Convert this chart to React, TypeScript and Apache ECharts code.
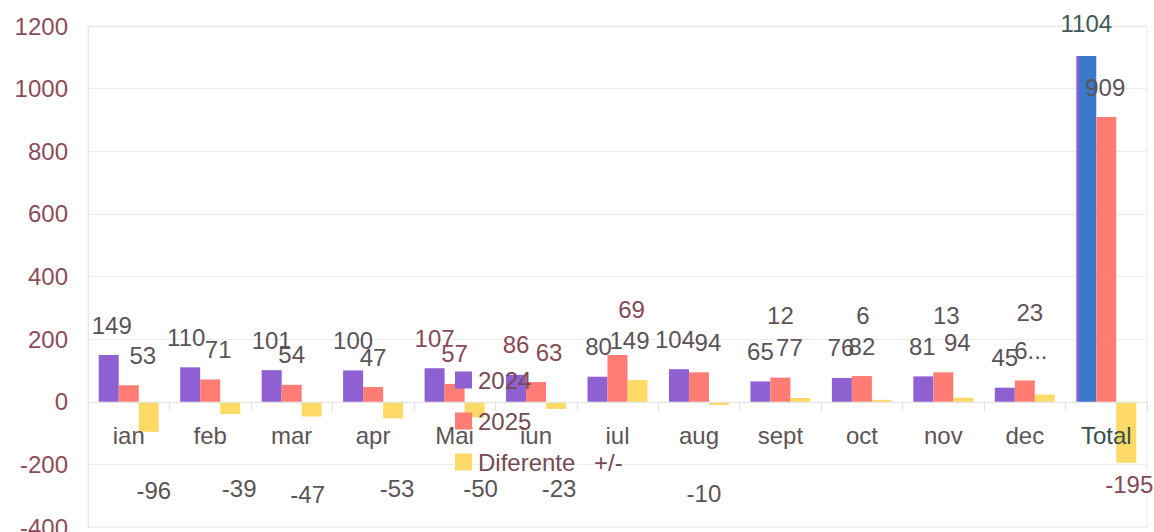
import React, { useEffect, useRef } from "react";
import * as echarts from "echarts";

const categories = ["ian", "feb", "mar", "apr", "Mai", "iun", "iul", "aug", "sept", "oct", "nov", "dec", "Total"];
const values2024 = [149, 110, 101, 100, 107, 86, 80, 104, 65, 76, 81, 45, 1104];
const values2025 = [53, 71, 54, 47, 57, 63, 149, 94, 77, 82, 94, 68, 909];
const diffValues = [-96, -39, -47, -53, -50, -23, 69, -10, 12, 6, 13, 23, -195];
const yTicks = { min: -400, max: 1200, interval: 200 };
const seriesNames = ["2024", "2025", "Diferente +/-"];

// label tweaks (styles only)
const dx2024 = [3, -4, 0, 0, 0, 0, 1, -4, 0, -1, -1, 0, 0];
const dx2025 = [14, 8, 0, 0, 0, 13, 12, 9, 9, 0, 14, 6, -1];
const dy2025 = [0, 0, 0, 0, 0, 0, 15, 0, 0, 0, 0, 0, 0];
const diffDx = [5, 9, -4, 4, 6, 3, -6, -15, -20, -19, -17, -15, 3];
const diffNegY = [89, 87, 93, 87, 87, 87, 0, 92, 0, 0, 0, 0, 83];
const diffPosDist = [0, 0, 0, 0, 0, 0, 59, 0, 70, 72, 70, 70, 0];

const FONT = 'Arial, "Liberation Sans", "DejaVu Sans", sans-serif';
const PURPLE = "#8f60d2";
const PINK = "#fe7c73";
const YELLOW = "#ffd966";
const BLUE = "#3b78cc";
const GRAY = "#5b5357";
const BROWN = "#854a58";

const W = 1154;
const H = 532;
const GRID = { left: 88, right: 7, top: 26, bottom: 5 };

export default function App() {
  const ref = useRef<HTMLDivElement>(null);
  useEffect(() => {
    if (!ref.current) return;
    const chart = echarts.init(ref.current, null, { renderer: "svg" });
    const brown2024 = new Set([4, 5]);
    const brown2025 = new Set([4, 5]);
    const brownDiff = new Set([6, 12]);

    const d2024 = values2024.map((v, i) => {
      const item: any = {
        value: v,
        label: { offset: [dx2024[i], 0], color: brown2024.has(i) ? BROWN : GRAY },
      };
      if (categories[i] === "Total") {
        item.itemStyle = {
          color: new echarts.graphic.LinearGradient(0, 0, 1, 0, [
            { offset: 0, color: PURPLE },
            { offset: 0.15, color: PURPLE },
            { offset: 0.16, color: BLUE },
            { offset: 1, color: BLUE },
          ]),
        };
        item.label.color = "#3d5c59";
        item.label.distance = 21;
      }
      return item;
    });
    const d2025 = values2025.map((v, i) => {
      const item: any = {
        value: v,
        label: { offset: [dx2025[i], dy2025[i]], color: brown2025.has(i) ? BROWN : GRAY },
      };
      if (categories[i] === "dec") item.label.formatter = "6...";
      return item;
    });
    const dDiff = diffValues.map((v, i) => {
      const color = brownDiff.has(i) ? BROWN : GRAY;
      if (v < 0) {
        return {
          value: v,
          label: {
            position: ["50%", diffNegY[i]],
            align: "center",
            verticalAlign: "middle",
            offset: [diffDx[i], 0],
            color,
          },
        };
      }
      return {
        value: v,
        label: { position: "top", distance: diffPosDist[i], offset: [diffDx[i], 0], color },
      };
    });

    const labelBase = {
      show: true,
      position: "top",
      distance: 18,
      fontSize: 24,
      fontFamily: FONT,
      color: GRAY,
    };

    // move the category axis up to the zero line
    const plotH = H - GRID.top - GRID.bottom;
    const zeroFromBottom = (plotH * (0 - yTicks.min)) / (yTicks.max - yTicks.min);

    chart.setOption({
      animation: false,
      backgroundColor: "#ffffff",
      textStyle: { fontFamily: FONT },
      grid: {
        ...GRID,
        outerBoundsMode: "none",
        containLabel: false,
        show: true,
        borderColor: "#ececec",
        borderWidth: 1,
      },
      legend: {
        orient: "vertical",
        left: 450,
        top: 363,
        itemWidth: 17,
        itemHeight: 17,
        itemGap: 17,
        icon: "rect",
        z: 6,
        data: seriesNames,
        formatter: (name: string) => name.replace(" +/-", "\u2002 +/-"),
        textStyle: {
          fontSize: 24,
          lineHeight: 24,
          color: "#764955",
          fontFamily: FONT,
          padding: [0, 0, 0, 1],
        },
      },
      xAxis: {
        type: "category",
        position: "bottom",
        offset: -zeroFromBottom,
        z: 5,
        data: categories.map((c) =>
          c === "Total" ? { value: c, textStyle: { color: "#36504d" } } : c
        ),
        axisLine: { show: true, onZero: false, lineStyle: { color: "#e3e3e3" } },
        axisTick: { show: true, length: 9, lineStyle: { color: "#e0e0e0" } },
        axisLabel: { color: "#5d5457", fontSize: 24, fontFamily: FONT, margin: 22, hideOverlap: false },
        splitLine: { show: false },
      },
      yAxis: {
        type: "value",
        min: yTicks.min,
        max: yTicks.max,
        interval: yTicks.interval,
        axisLine: { show: true, lineStyle: { color: "#e6e6e6" } },
        axisTick: { show: false },
        axisLabel: {
          color: "#8b4c5b",
          fontSize: 24,
          fontFamily: FONT,
          margin: 20,
          formatter: (v: number) => String(v),
        },
        splitLine: { show: true, lineStyle: { color: "#ececec" } },
      },
      series: [
        {
          name: seriesNames[0],
          type: "bar",
          barWidth: 20,
          barGap: "0%",
          itemStyle: { color: PURPLE },
          label: labelBase,
          data: d2024,
        },
        {
          name: seriesNames[1],
          type: "bar",
          barWidth: 20,
          barGap: "0%",
          itemStyle: { color: PINK },
          label: labelBase,
          data: d2025,
        },
        {
          name: seriesNames[2],
          type: "bar",
          barWidth: 20,
          barGap: "0%",
          itemStyle: { color: YELLOW },
          label: labelBase,
          data: dDiff,
        },
      ],
    });
    return () => chart.dispose();
  }, []);

  return (
    <div
      ref={ref}
      style={{ position: "fixed", left: 0, top: 0, width: W, height: H, background: "#fff" }}
    />
  );
}
